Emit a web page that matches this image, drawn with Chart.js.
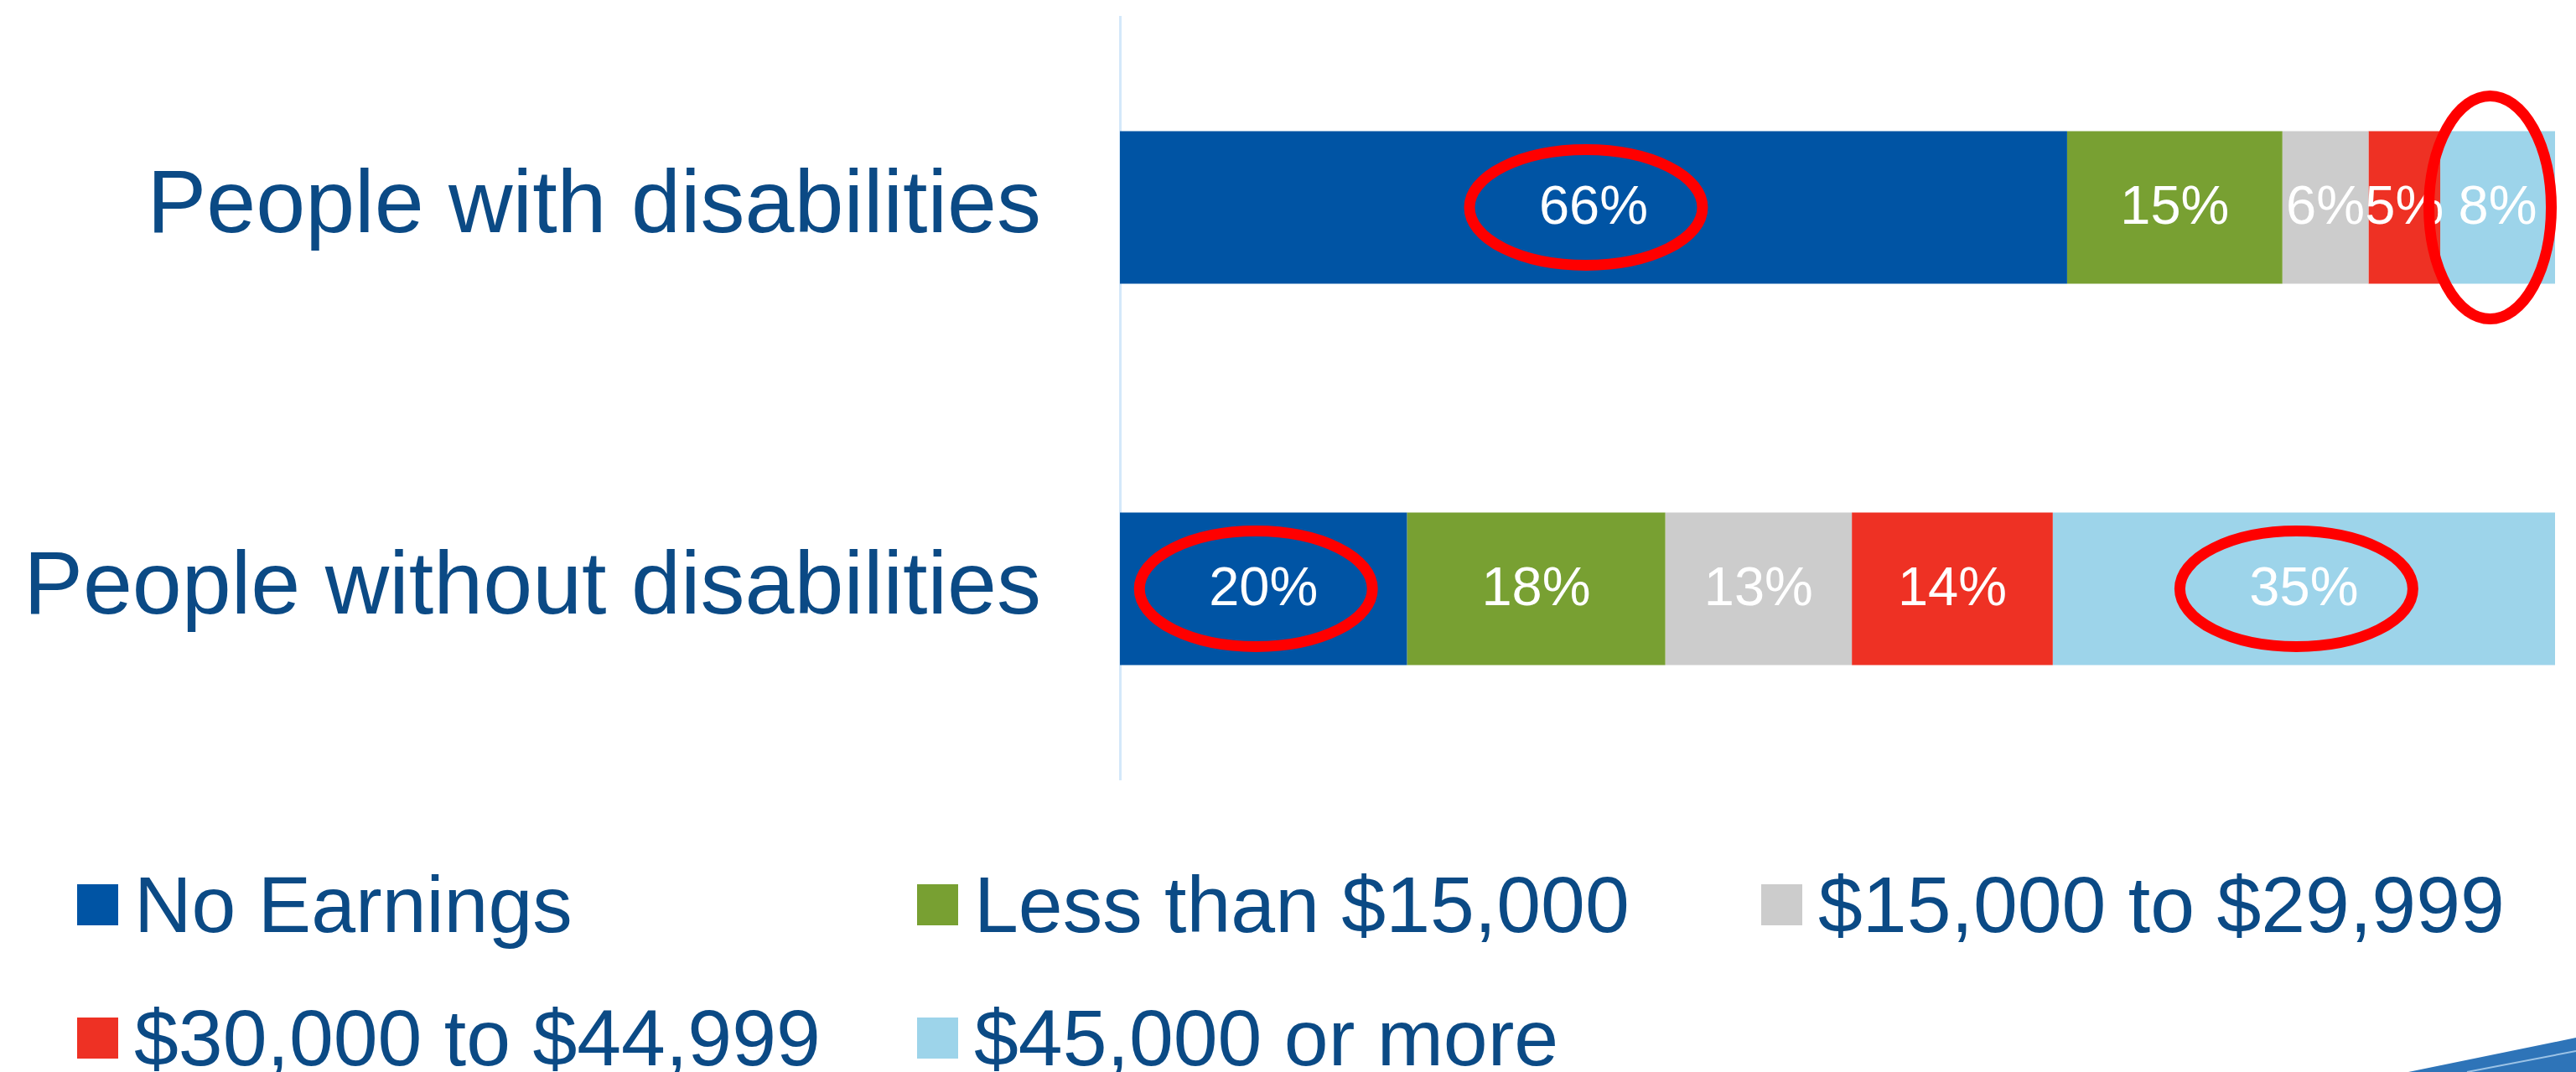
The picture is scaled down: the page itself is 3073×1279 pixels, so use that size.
<!DOCTYPE html>
<html>
  <head>
    <title>Earnings by disability status</title>
    <script src="https://cdn.jsdelivr.net/npm/chart.js"></script>
    <style>
      body {
        margin: 0;
        width: 3073px;
        height: 1279px;
        overflow: hidden;
        background: #ffffff;
        position: relative;
        font-family: "Liberation Sans", Arial, sans-serif;
      }

      #chartBox {
        position: absolute;
        left: 0;
        top: 0;
      }

      #legend {
        position: absolute;
        left: 92px;
        top: 1000px;
        display: grid;
        grid-template-columns: 1002px 1007px auto;
        grid-auto-rows: 159px;
      }

      .item {
        display: flex;
        align-items: center;
        color: #0b4a85;
        font-size: 95px;
        line-height: 1;
        white-space: nowrap;
      }

      .box {
        width: 49px;
        height: 49px;
        margin-right: 19px;
        flex: none;
      }

      #swoosh {
        position: absolute;
        right: 0;
        bottom: 0;
      }
    </style>
  </head>
  <body>
    <div id="chartBox">
      <canvas id="barChart" width="3073" height="950"></canvas>
    </div>
    <div id="legend"></div>

    <svg id="swoosh" width="200" height="45" viewBox="0 0 200 45">
      <polygon points="0,45 200,4 200,45" fill="#2e74b8" />
      <polyline points="70,45 200,20" stroke="#9cc3e6" stroke-width="2" fill="none" />
    </svg>

    <script>
      // Data
      const groups = ["People with disabilities", "People without disabilities"];
      const seriesNames = [
        "No Earnings",
        "Less than $15,000",
        "$15,000 to $29,999",
        "$30,000 to $44,999",
        "$45,000 or more",
      ];
      const noEarnings = [66, 20];
      const under15k = [15, 18];
      const from15to30k = [6, 13];
      const from30to45k = [5, 14];
      const over45k = [8, 35];
      // [series index, group index] of the segments circled in red
      const circled = [[0, 0], [4, 0], [0, 1], [4, 1]];

      const colors = ["#0054a4", "#78a032", "#cccccc", "#ee3124", "#9dd4ea"];
      const allValues = [noEarnings, under15k, from15to30k, from30to45k, over45k];

      // white percentage labels in the middle of each segment
      const segmentLabels = {
        id: "segmentLabels",
        afterDatasetsDraw(chart) {
          const ctx = chart.ctx;
          ctx.save();
          ctx.fillStyle = "#ffffff";
          ctx.font = '65px "Liberation Sans", Arial, sans-serif';
          ctx.textAlign = "center";
          ctx.textBaseline = "middle";
          chart.data.datasets.forEach((ds, i) => {
            chart.getDatasetMeta(i).data.forEach((bar, j) => {
              const x = (bar.x + bar.base) / 2;
              ctx.fillText(ds.data[j] + "%", x, bar.y + 2);
            });
          });
          ctx.restore();
        },
      };

      // red ellipses drawn round the highlighted segments
      const highlights = {
        id: "highlights",
        afterDraw(chart) {
          const ctx = chart.ctx;
          ctx.save();
          ctx.strokeStyle = "#ff0000";
          ctx.lineWidth = 13;
          circled.forEach(([s, g]) => {
            const bar = chart.getDatasetMeta(s).data[g];
            const x = (bar.x + bar.base) / 2 - 9;
            const narrow = Math.abs(bar.x - bar.base) < 200;
            const rx = narrow ? 73 : 139;
            const ry = narrow ? 133 : 69;
            ctx.beginPath();
            ctx.ellipse(x, bar.y, rx, ry, 0, 0, Math.PI * 2);
            ctx.stroke();
          });
          ctx.restore();
        },
      };

      function drawBarChart() {
        const ctx = document.getElementById("barChart").getContext("2d");
        return new Chart(ctx, {
          type: "bar",
          data: {
            labels: groups,
            datasets: seriesNames.map((name, i) => ({
              label: name,
              data: allValues[i],
              backgroundColor: colors[i],
              borderWidth: 0,
              barPercentage: 0.4,
              categoryPercentage: 1,
            })),
          },
          options: {
            indexAxis: "y",
            responsive: false,
            animation: false,
            layout: { padding: { top: 20, bottom: 20, right: 25, left: 0 } },
            plugins: {
              legend: { display: false },
              tooltip: { enabled: false },
            },
            scales: {
              x: {
                stacked: true,
                min: 0,
                max: 100,
                display: false,
              },
              y: {
                stacked: true,
                grid: { display: false },
                border: { display: true, color: "#d4e8fa", width: 3 },
                ticks: {
                  color: "#0b4a85",
                  padding: 86,
                  font: { family: '"Liberation Sans", Arial, sans-serif', size: 106 },
                },
                afterFit(scale) {
                  scale.width = 1336;
                  // labels sit mid-band, they need no extra room above or below
                  scale.paddingTop = 0;
                  scale.paddingBottom = 0;
                },
              },
            },
          },
          plugins: [segmentLabels, highlights],
        });
      }

      // Legend laid out as a grid, built from the chart's datasets
      function buildLegend(chart) {
        const legend = document.getElementById("legend");
        legend.innerHTML = chart.data.datasets
          .map(
            (ds) =>
              `<div class="item"><span class="box" style="background:${ds.backgroundColor}"></span>${ds.label}</div>`
          )
          .join("");
      }

      const chart = drawBarChart();
      buildLegend(chart);
    </script>
  </body>
</html>
